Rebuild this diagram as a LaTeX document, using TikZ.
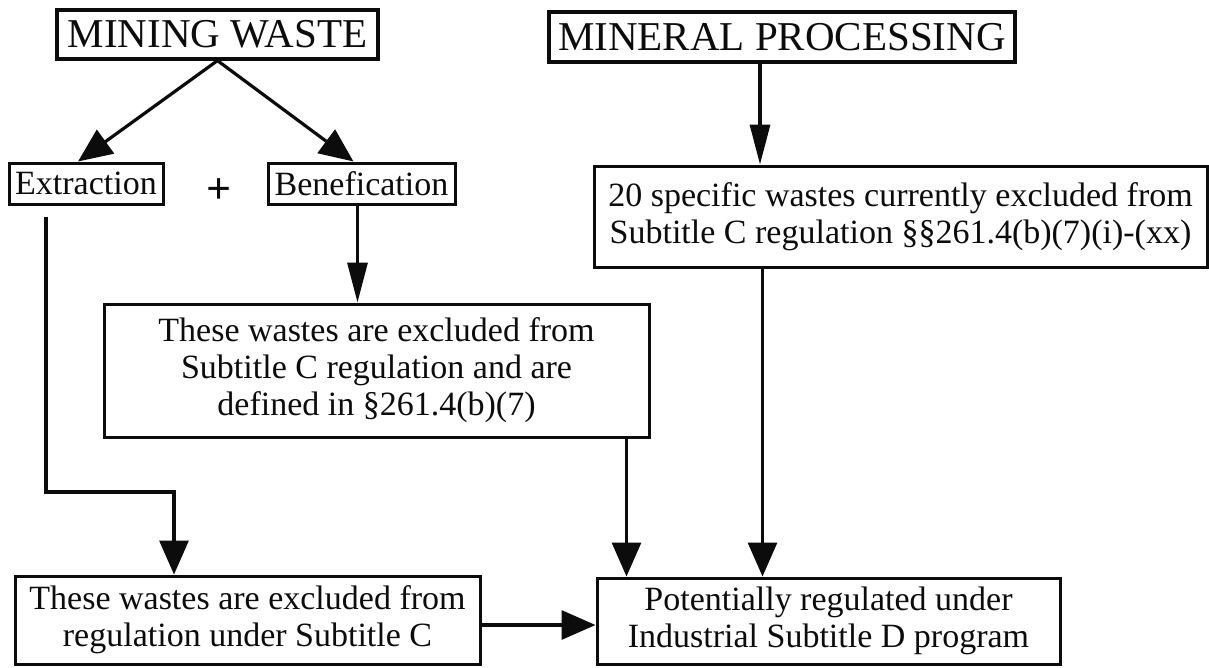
\documentclass[tikz,border=0pt]{standalone}
\usepackage{fontspec}
\setmainfont{Liberation Serif}
\usetikzlibrary{
    arrows.meta,
    positioning,
    calc
}
\definecolor{inkBlack}{RGB}{12, 12, 12}
\definecolor{paperWhite}{RGB}{255, 255, 255}
\def\figW{1209}
\def\figH{667}
\tikzset{
    titleBox/.style={
        rectangle,
        draw=inkBlack,
        line width=3.2pt,
        fill=paperWhite,
        text=inkBlack,
        font=\fontsize{41}{46}\selectfont,
        inner sep=0pt,
        text centered
    },
    stageBox/.style={
        rectangle,
        draw=inkBlack,
        line width=3pt,
        fill=paperWhite,
        text=inkBlack,
        font=\fontsize{34}{37}\selectfont,
        inner sep=0pt,
        text centered
    },
    noteBox/.style={
        stageBox,
        align=center
    },
    plusSign/.style={
        text=inkBlack,
        font=\fontsize{44}{48}\selectfont\bfseries,
        inner sep=0pt
    },
    flowLine/.style={
        draw=inkBlack,
        line width=3.2pt
    },
    narrowArrow/.style={
        flowLine,
        -{Triangle[length=40pt, width=20pt]}
    },
    wideArrow/.style={
        flowLine,
        -{Triangle[length=34pt, width=29pt]}
    }
}

\begin{document}
\begin{tikzpicture}[x=1pt, y=-1pt]
    \useasboundingbox (0,0) rectangle (\figW, \figH);
    \fill[paperWhite] (0,0) rectangle (\figW, \figH);

    % Titles
    \node[titleBox, minimum width=321pt, minimum height=49pt] (mining) at (217.5, 34.5) {MINING WASTE};
    \node[titleBox, minimum width=466pt, minimum height=50pt] (mineral) at (782, 37) {MINERAL PROCESSING};

    % Mining waste split
    \node[stageBox, minimum width=154pt, minimum height=41pt] (extraction) at (86, 183.5) {Extraction};
    \node[stageBox, minimum width=187pt, minimum height=41pt] (benefication) at (361.5, 183.5) {Benefication};
    \node[plusSign] (plus) at (219, 191) {+};

    % Exclusion boxes
    \node[noteBox, minimum width=613pt, minimum height=101pt] (specific) at (900.5, 216.5) {
        20 specific wastes currently excluded from\\
        Subtitle C regulation §§261.4(b)(7)(i)-(xx)
    };
    \node[noteBox, minimum width=545pt, minimum height=133pt] (excluded) at (376.5, 370.5) {
        These wastes are excluded from\\
        Subtitle C regulation and are\\
        defined in §261.4(b)(7)
    };

    % Bottom row
    \node[noteBox, minimum width=465pt, minimum height=88pt] (notSubC) at (247.5, 620) {
        These wastes are excluded from\\
        regulation under Subtitle C
    };
    \node[noteBox, minimum width=463pt, minimum height=86pt] (subD) at (828.5, 621) {
        Potentially regulated under\\
        Industrial Subtitle D program
    };

    % Helper points
    \coordinate (benDrop) at ([xshift=-4pt]benefication.south);
    \coordinate (minDrop) at ([xshift=-22pt]mineral.south);
    \coordinate (exStart) at ([xshift=-40pt, yshift=-11pt]extraction.south);
    \coordinate (exBend) at (174, 492);
    \coordinate (excDrop) at ([xshift=-24pt]excluded.south east);
    \coordinate (specDrop) at ([xshift=170pt]specific.south west);
    \coordinate (leftOut) at ([yshift=-5pt]notSubC.east);

    % Connections
    \draw[wideArrow] (mining.south) -- ([xshift=-8pt]extraction.north);
    \draw[wideArrow] (mining.south) -- ([xshift=-8pt]benefication.north);
    \draw[narrowArrow] (benDrop) -- (benDrop |- excluded.north);
    \draw[narrowArrow] (minDrop) -- (minDrop |- specific.north);
    \draw[wideArrow] (exStart) |- (exBend) -- (exBend |- notSubC.north);
    \draw[wideArrow] (excDrop) -- (excDrop |- subD.north);
    \draw[wideArrow] (specDrop) -- (specDrop |- subD.north);
    \draw[wideArrow] (leftOut) -- (leftOut -| subD.west);
\end{tikzpicture}
\end{document}
